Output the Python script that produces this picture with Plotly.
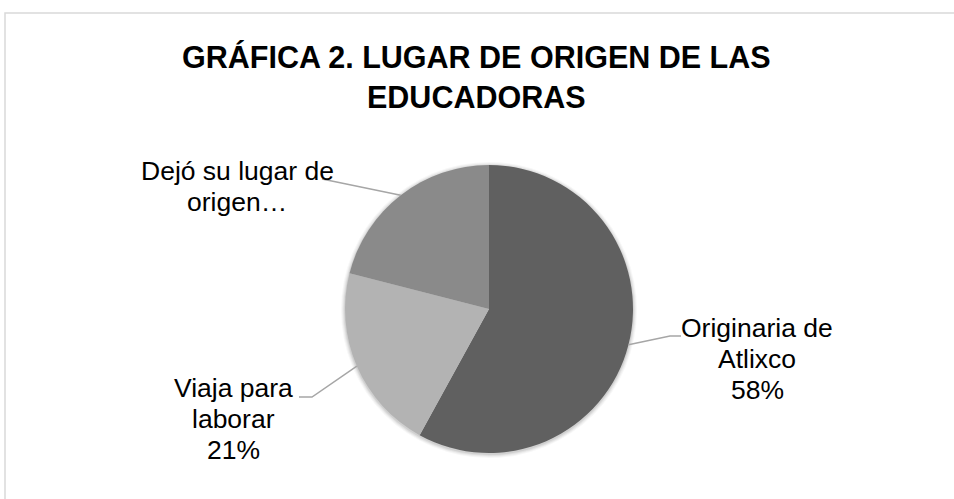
import math
import plotly.graph_objects as go

# ---- data ----
categories = ["Originaria de Atlixco", "Viaja para laborar", "Dejó su lugar de origen…"]
values = [58, 21, 21]
label_lines = [["Originaria de", "Atlixco", "58%"], ["Viaja para", "laborar", "21%"], ["Dejó su lugar de", "origen…"]]
colors = ["#606060", "#b3b3b3", "#8a8a8a"]
title_text = "<b>GRÁFICA 2. LUGAR DE ORIGEN DE LAS<br>EDUCADORAS</b>"

W, H = 954, 499
CX, CY, R = 489, 309, 144  # pie centre / radius in px


def px(x):
    return x / W


def py(y):
    return 1 - y / H


fig = go.Figure(go.Pie(
    labels=categories, values=values, sort=False, direction="clockwise", rotation=0,
    marker=dict(colors=colors, line=dict(width=0)), textinfo="none", hoverinfo="label+percent",
    domain=dict(x=[px(CX - R), px(CX + R)], y=[py(CY + R), py(CY - R)]),
    showlegend=False,
))

# label layout: centre x, first-line y, line spacing; leader elbow/end points
label_pos = [(757, 328), (233, 388), (237, 171)]
LINE_GAP = 31
leader_pts = [[(670, 336), (681, 336)], [(312, 397), (299, 397)], [(322, 179)]]

shapes = []
# soft shadow
for k, a in [(4, 0.03), (3, 0.04), (2, 0.05), (1, 0.07)]:
    shapes.append(dict(type="circle", xref="paper", yref="paper", layer="below",
                       x0=px(CX - R - k), x1=px(CX + R + k), y0=py(CY + R + k + 1), y1=py(CY - R - k + 1),
                       fillcolor=f"rgba(0,0,0,{a})", line=dict(width=0)))

total = sum(values)
cum = 0
for i, v in enumerate(values):
    mid = (cum + v / 2) / total
    cum += v
    ang = math.radians(90 - 360 * mid)
    ex, ey = CX + R * math.cos(ang), CY - R * math.sin(ang)
    pts = [(ex, ey)] + leader_pts[i]
    path = "M " + " L ".join(f"{px(a)},{py(b)}" for a, b in pts)
    shapes.append(dict(type="path", xref="paper", yref="paper", path=path,
                       line=dict(color="#a6a6a6", width=1.5)))

# frame
shapes.append(dict(type="rect", xref="paper", yref="paper", x0=px(5), x1=px(1000), y0=py(600), y1=py(13),
                   line=dict(color="#d9d9d9", width=1.5)))

FONT = "Liberation Sans, Arial, sans-serif"
annotations = []
for (x, y0), lines in zip(label_pos, label_lines):
    for j, t in enumerate(lines):
        annotations.append(dict(x=px(x), y=py(y0 + j * LINE_GAP), xref="paper", yref="paper", text=t,
                                showarrow=False, xanchor="center", yanchor="middle", align="center",
                                font=dict(family=FONT, size=26.5, color="#000000")))

annotations.append(dict(x=px(476), y=py(77), xref="paper", yref="paper", text=title_text, showarrow=False,
                        xanchor="center", yanchor="middle", align="center",
                        font=dict(family=FONT, size=30.5, color="#000000")))

fig.update_layout(width=W, height=H, margin=dict(l=0, r=0, t=0, b=0),
                  paper_bgcolor="white", plot_bgcolor="white",
                  shapes=shapes, annotations=annotations)

fig.write_html("out.html", config={"displayModeBar": False},
               post_script="document.body.style.margin='0px';")
